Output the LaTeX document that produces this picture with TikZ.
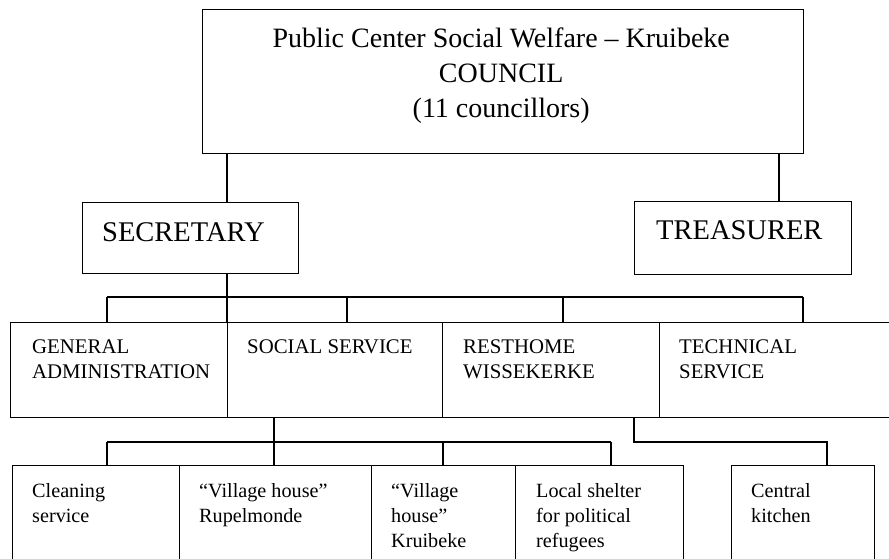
\documentclass[tikz,border=0pt]{standalone}
\usepackage{fontspec}
\setmainfont{Liberation Serif}
\usetikzlibrary{positioning}
\newcommand{\lignes}[2][l]{\begin{tabular}[t]{@{}#1@{}}#2\end{tabular}}

\begin{document}
\begin{tikzpicture}[x=1pt,y=-1pt]
\tikzstyle{cadre}=[draw,line width=1.4pt,inner sep=0pt,anchor=north west]
\tikzstyle{titre}=[anchor=base,inner sep=0pt,font=\fontsize{28}{35}\selectfont]
\tikzstyle{chef}=[anchor=base west,inner sep=0pt,font=\fontsize{28.5}{34}\selectfont]
\tikzstyle{service}=[anchor=base west,inner sep=0pt,font=\fontsize{20.8}{25}\selectfont]
\tikzstyle{unite}=[anchor=base west,inner sep=0pt,font=\fontsize{20.2}{25}\selectfont]
\tikzstyle{lien}=[line width=1.4pt]
\useasboundingbox (0,0) rectangle (889,559);
% council and the two officers
\node[cadre,minimum width=601pt,minimum height=144pt] (council) at (202,9) {};
\node[cadre,minimum width=216pt,minimum height=71pt] (secretary) at (82,202) {};
\node[cadre,minimum width=217pt,minimum height=73pt] (treasurer) at (634,201) {};
% departments
\node[cadre,minimum width=217pt,minimum height=95pt] (genadmin) at (10,322) {};
\node[cadre,minimum width=215pt,minimum height=95pt] (social) at (227,322) {};
\node[cadre,minimum width=217pt,minimum height=95pt] (resthome) at (442,322) {};
\node[cadre,minimum width=250pt,minimum height=95pt] (technical) at (659,322) {};
% units (open at the bottom of the page)
\node[cadre,minimum width=167pt,minimum height=120pt] (cleaning) at (12,465) {};
\node[cadre,minimum width=192pt,minimum height=120pt] (villageR) at (179,465) {};
\node[cadre,minimum width=144pt,minimum height=120pt] (villageK) at (371,465) {};
\node[cadre,minimum width=168pt,minimum height=120pt] (shelter) at (515,465) {};
\node[cadre,minimum width=143pt,minimum height=120pt] (kitchen) at (731,465) {};
% texts
\node[titre] (tCouncil) at ([xshift=-2pt,yshift=-39pt]council.north) {\lignes[c]{Public Center Social Welfare – Kruibeke\\COUNCIL\\(11 councillors)}};
\node[chef] (tSecretary) at ([xshift=20pt,yshift=-39pt]secretary.north west) {SECRETARY};
\node[chef] (tTreasurer) at ([xshift=22pt,yshift=-38pt]treasurer.north west) {TREASURER};
\node[service] (tGenadmin) at ([xshift=22pt,yshift=-31pt]genadmin.north west) {\lignes{GENERAL\\ADMINISTRATION}};
\node[service] (tSocial) at ([xshift=20pt,yshift=-31pt]social.north west) {SOCIAL SERVICE};
\node[service] (tResthome) at ([xshift=21pt,yshift=-31pt]resthome.north west) {\lignes{RESTHOME\\WISSEKERKE}};
\node[service] (tTechnical) at ([xshift=20pt,yshift=-31pt]technical.north west) {\lignes{TECHNICAL\\SERVICE}};
\node[unite] (tCleaning) at ([xshift=20pt,yshift=-32pt]cleaning.north west) {\lignes{Cleaning\\service}};
\node[unite] (tVillageR) at ([xshift=20pt,yshift=-32pt]villageR.north west) {\lignes{“Village house”\\Rupelmonde}};
\node[unite] (tVillageK) at ([xshift=20pt,yshift=-32pt]villageK.north west) {\lignes{“Village\\house”\\Kruibeke}};
\node[unite] (tShelter) at ([xshift=21pt,yshift=-32pt]shelter.north west) {\lignes{Local shelter\\for political\\refugees}};
\node[unite] (tKitchen) at ([xshift=20pt,yshift=-32pt]kitchen.north west) {\lignes{Central\\kitchen}};
% council to secretary and treasurer
\coordinate (xSec) at (227,0);
\coordinate (xTre) at (779,0);
\draw[lien] (council.south -| xSec) -- (secretary.north -| xSec);
\draw[lien] (council.south -| xTre) -- (treasurer.north -| xTre);
% secretary to the departments
\coordinate (busA) at (107,297);
\coordinate (busB) at (803,297);
\draw[lien] (secretary.south -| xSec) -- (genadmin.north -| xSec);
\draw[lien] (busA) -- (busB);
\foreach \x/\n in {107/genadmin,347/social,563/resthome,803/technical}{
  \coordinate (d\n) at (\x,297);
  \draw[lien] (d\n) -- (d\n |- \n.north);
}
% social service to its units
\coordinate (xSoc) at (274,0);
\coordinate (busC) at (107,442);
\coordinate (busD) at (611,442);
\draw[lien] (social.south -| xSoc) -- (busC -| xSoc);
\draw[lien] (busC) -- (busD);
\foreach \x/\n in {107/cleaning,274/villageR,443/villageK,611/shelter}{
  \coordinate (e\n) at (\x,442);
  \draw[lien] (e\n) -- (e\n |- \n.north);
}
% resthome to the kitchen
\coordinate (xRest) at (634,0);
\coordinate (eKitchen) at (827,442);
\draw[lien] (resthome.south -| xRest) |- (eKitchen) -- (eKitchen |- kitchen.north);
\end{tikzpicture}
\end{document}
